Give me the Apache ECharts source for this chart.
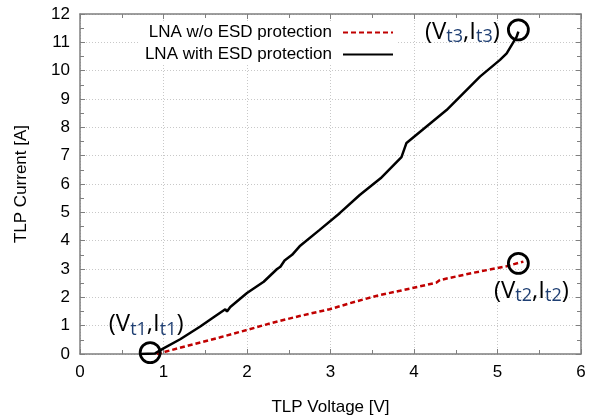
<!DOCTYPE html>
<html><head><meta charset="utf-8">
<script src="https://cdn.jsdelivr.net/npm/echarts@6/dist/echarts.min.js"></script>
<style>html,body{margin:0;padding:0;background:#fff}#c{width:595px;height:416px}</style>
</head><body><div id="c"></div>
<script>
var seriesNames = ['LNA w/o ESD protection', 'LNA with ESD protection'];
var withoutESD = [[0.92,0],[1.02,0.08],[1.3,0.3],[1.68,0.59],[2.0,0.85],[2.3,1.1],[2.63,1.34],[2.99,1.58],[3.3,1.85],[3.59,2.08],[3.83,2.23],[4.27,2.52],[4.31,2.61],[4.7,2.86],[5.11,3.1],[5.31,3.26]];
var withESD = [[0.72,0],[0.9,0.02],[1.0,0.2],[1.2,0.52],[1.44,0.97],[1.6,1.3],[1.74,1.58],[1.76,1.5],[1.8,1.66],[2.0,2.15],[2.2,2.55],[2.36,3.0],[2.4,3.08],[2.45,3.3],[2.54,3.5],[2.63,3.8],[2.87,4.38],[3.11,4.97],[3.35,5.61],[3.6,6.2],[3.85,6.95],[3.91,7.45],[4.39,8.61],[4.79,9.79],[5.03,10.38],[5.11,10.61],[5.23,11.2],[5.25,11.38]];
var markPoints = [[0.84,0.05],[5.25,3.2],[5.25,11.44]];
var markLabels = ['{m|(V}{s|t1}{m|,I}{s|t1}{m|)}','{m|(V}{s|t2}{m|,I}{s|t2}{m|)}','{m|(V}{s|t3}{m|,I}{s|t3}{m|)}'];
var labelOffsets = [[-4,-28],[13,28],[-56,2]];
var xTicks = {min:0,max:6,interval:1};
var yTicks = {min:0,max:12,interval:1};

var chart = echarts.init(document.getElementById('c'));
var font = 'Liberation Sans';
var axisGray = '#7f7f7f';
function baseAxis(t, pos, showLabels, showSplit){
  return {
    type:'value', position:pos, min:t.min, max:t.max, interval:t.interval,
    axisLine:{show:true, onZero:false, lineStyle:{color:axisGray,width:1.5}},
    axisTick:{show:true, inside:true, length:5, lineStyle:{color:axisGray,width:1}},
    minorTick:{show:true, splitNumber:2, length:4, lineStyle:{color:axisGray,width:1}},
    axisLabel:{show:showLabels, color:'#000', fontSize:17, fontFamily:font, margin:10},
    splitLine:{show:showSplit, lineStyle:{color:'#c8c8c8', type:[1,2], width:1}}
  };
}
var xa = baseAxis(xTicks,'bottom',true,true);
xa.name='TLP Voltage [V]'; xa.nameLocation='middle'; xa.nameGap=45;
xa.nameTextStyle={color:'#000',fontSize:17,fontFamily:font};
var xb = baseAxis(xTicks,'top',false,false);
var ya = baseAxis(yTicks,'left',true,true);
ya.name='TLP Current [A]'; ya.nameLocation='middle'; ya.nameGap=50;
ya.nameTextStyle={color:'#000',fontSize:17,fontFamily:font};
var yb = baseAxis(yTicks,'right',false,false);

chart.setOption({
  animation:false,
  backgroundColor:'#fff',
  grid:{left:80,right:14,top:14,bottom:62,containLabel:false,outerBoundsMode:'none'},
  legend:{
    data:seriesNames, orient:'vertical', align:'right', right:199, top:22,
    itemWidth:50, itemHeight:14, itemGap:5, backgroundColor:'#fff', padding:[2,2,2,6],
    itemStyle:{opacity:0},
    textStyle:{color:'#000',fontSize:17,fontFamily:font,padding:[0,6,0,0]}
  },
  xAxis:[xa,xb],
  yAxis:[ya,yb],
  series:[
    {name:seriesNames[0], type:'line', data:withoutESD, symbol:'none', smooth:false,
     lineStyle:{color:'#c00000', width:2.5, type:[5,3]}, itemStyle:{color:'#c00000'}, z:3},
    {name:seriesNames[1], type:'line', data:withESD, symbol:'none',
     lineStyle:{color:'#000', width:2.5}, itemStyle:{color:'#000'}, z:4},
    {name:'marks', type:'scatter', data:markPoints.map(function(p,i){
       return {value:p, label:{show:true, position:'inside', offset:labelOffsets[i], formatter:markLabels[i]}};
     }),
     symbol:'circle', symbolSize:20, z:5,
     itemStyle:{color:'rgba(0,0,0,0)', borderColor:'#000', borderWidth:2.8, opacity:1},
     label:{rich:{
       m:{fontSize:24, fontFamily:'Open Sans', color:'#000', lineHeight:28},
       s:{fontSize:18, fontFamily:'Open Sans', color:'#1f3f73', lineHeight:18, verticalAlign:'bottom'}
     }}
    }
  ]
});
</script></body></html>
